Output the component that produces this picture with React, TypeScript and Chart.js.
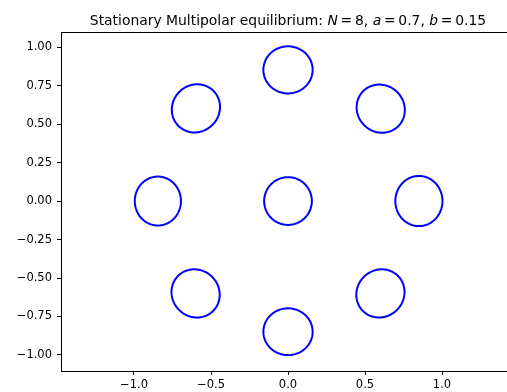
import React, { useEffect, useRef } from "react";
import { Chart, registerables } from "chart.js";

Chart.register(...registerables);

// Patch centres (data coordinates) and semi-axes
const patchCx = [0, 0, 0.602, 0.85, 0.6, 0, -0.6, -0.845, -0.598];
const patchCy = [0, 0.852, 0.6, 0, -0.6, -0.849, -0.6, 0, 0.602];
const patchRadial = [0.155, 0.153, 0.152, 0.153, 0.152, 0.152, 0.152, 0.150, 0.152];
const patchTangential = [0.155, 0.160, 0.161, 0.163, 0.161, 0.160, 0.161, 0.159, 0.161];

const xTickValues = [-1, -0.5, 0, 0.5, 1];
const yTickValues = [-1, -0.75, -0.5, -0.25, 0, 0.25, 0.5, 0.75, 1];

const xMin = -1.474;
const xMax = 1.422;
const yMin = -1.104;
const yMax = 1.098;

const THIN = "\u2009";
const titleParts: [string, boolean][] = [
  ["Stationary Multipolar equilibrium: ", false],
  ["N", true],
  [THIN + "=" + THIN + "8, ", false],
  ["a", true],
  [THIN + "=" + THIN + "0.7, ", false],
  ["b", true],
  [THIN + "=" + THIN + "0.15", false],
];

const FONT = "'DejaVu Sans', sans-serif";

function patchOutline(i: number) {
  const cx = patchCx[i];
  const cy = patchCy[i];
  const ang = cx === 0 && cy === 0 ? 0 : Math.atan2(cy, cx);
  const ur = [Math.cos(ang), Math.sin(ang)];
  const ut = [-Math.sin(ang), Math.cos(ang)];
  const pts: { x: number; y: number }[] = [];
  const n = 72;
  for (let k = 0; k <= n + 1; k++) {
    const t = (2 * Math.PI * k) / n + 0.3;
    const r = patchRadial[i] * Math.cos(t);
    const s = patchTangential[i] * Math.sin(t);
    pts.push({ x: cx + r * ur[0] + s * ut[0], y: cy + r * ur[1] + s * ut[1] });
  }
  return pts;
}

function fmt(v: number, digits: number) {
  const s = Math.abs(v).toFixed(digits);
  return v < 0 ? "\u2212" + s : s;
}

const framePlugin = {
  id: "frameTitle",
  afterDraw(chart: any) {
    const ctx = chart.ctx;
    const area = chart.chartArea;
    ctx.save();
    ctx.strokeStyle = "#000";
    ctx.lineWidth = 1;
    ctx.beginPath();
    ctx.moveTo(area.left, Math.round(area.top) + 0.5);
    ctx.lineTo(area.right, Math.round(area.top) + 0.5);
    ctx.stroke();

    // title
    const size = 13.9;
    ctx.fillStyle = "#000";
    ctx.textBaseline = "alphabetic";
    ctx.textAlign = "left";
    let total = 0;
    const widths: number[] = [];
    for (const [txt, it] of titleParts) {
      ctx.font = `${it ? "italic " : ""}${size}px ${FONT}`;
      const w = ctx.measureText(txt).width;
      widths.push(w);
      total += w;
    }
    const centerX = chart.scales.x.getPixelForValue(0);
    let x = centerX - total / 2;
    titleParts.forEach(([txt, it], idx) => {
      ctx.font = `${it ? "italic " : ""}${size}px ${FONT}`;
      ctx.fillText(txt, x, 25);
      x += widths[idx];
    });
    ctx.restore();
  },
};

export default function App() {
  const ref = useRef<HTMLCanvasElement | null>(null);
  useEffect(() => {
    document.body.style.margin = "0";
    const canvas = ref.current!;
    const datasets = patchCx.map((_, i) => ({
      data: patchOutline(i),
      showLine: true,
      borderColor: "#0000ff",
      borderWidth: 2,
      borderCapStyle: "round",
      borderJoinStyle: "round",
      pointRadius: 0,
      fill: false,
      tension: 0.05,
    }));
    const chart = new Chart(canvas, {
      type: "scatter",
      data: { datasets },
      options: {
        responsive: false,
        animation: false,
        layout: { padding: { top: 32, left: 0, right: 0, bottom: 0 } },
        plugins: { legend: { display: false }, tooltip: { enabled: false }, title: { display: false } },
        scales: {
          x: {
            type: "linear",
            min: xMin,
            max: xMax,
            afterBuildTicks: (s: any) => {
              s.ticks = xTickValues.map((v) => ({ value: v }));
            },
            afterFit: (s: any) => {
              s.height = 21;
            },
            grid: { drawOnChartArea: false, drawTicks: true, tickLength: 4, tickColor: "#000", tickWidth: 1 },
            border: { display: true, color: "#000", width: 1 },
            ticks: {
              color: "#000",
              padding: 3,
              maxRotation: 0,
              autoSkip: false,
              font: { family: FONT, size: 11.5 },
              callback: (v: any) => fmt(Number(v), 1),
            },
          },
          y: {
            type: "linear",
            min: yMin,
            max: yMax,
            afterBuildTicks: (s: any) => {
              s.ticks = yTickValues.map((v) => ({ value: v }));
            },
            afterFit: (s: any) => {
              s.width = 61;
            },
            grid: { drawOnChartArea: false, drawTicks: true, tickLength: 4, tickColor: "#000", tickWidth: 1 },
            border: { display: true, color: "#000", width: 1 },
            ticks: {
              color: "#000",
              padding: 5,
              autoSkip: false,
              font: { family: FONT, size: 11.5 },
              callback: (v: any) => fmt(Number(v), 2),
            },
          },
        },
      },
      plugins: [framePlugin],
    });
    return () => chart.destroy();
  }, []);
  return (
    <canvas ref={ref} width={507} height={392} style={{ display: "block", width: 507, height: 392 }} />
  );
}
